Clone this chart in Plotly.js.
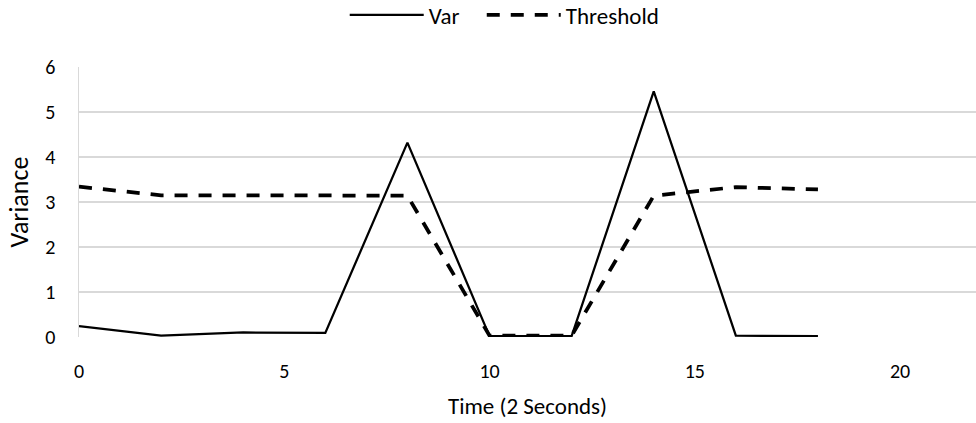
<!DOCTYPE html>
<html>
<head>
<meta charset="utf-8">
<script src="https://cdn.plot.ly/plotly-3.0.1.min.js"></script>
<style>html,body{margin:0;padding:0;background:#fff;}#chart{width:976px;height:423px;}</style>
</head>
<body>
<div id="chart"></div>
<script>
const timeSteps = [0, 2, 4, 6, 8, 10, 12, 14, 16, 18];
const varValues = [0.24, 0.03, 0.10, 0.09, 4.32, 0.02, 0.02, 5.46, 0.03, 0.02];
const thresholdValues = [3.34, 3.15, 3.15, 3.14, 3.14, 0.03, 0.03, 3.14, 3.33, 3.28];
const xTicks = [0, 5, 10, 15, 20];
const yTicks = [0, 1, 2, 3, 4, 5, 6];

const font = 'Carlito, Lato, "Open Sans", sans-serif';
const traces = [
  {x: timeSteps, y: varValues, name: 'Var', mode: 'lines', type: 'scatter', legend: 'legend',
   line: {color: '#000', width: 2.25}},
  {x: timeSteps, y: thresholdValues, name: 'Threshold', mode: 'lines', type: 'scatter', legend: 'legend2',
   line: {color: '#000', width: 3.75, dash: '13px,11px'}}
];
const legendBase = {orientation: 'h', xref: 'container', yref: 'container',
  xanchor: 'left', y: 0.965, yanchor: 'middle', bgcolor: 'rgba(0,0,0,0)',
  font: {family: font, size: 23, color: '#000'}, itemwidth: 74};
const layout = {
  width: 976, height: 423,
  margin: {l: 79, r: 0, t: 67, b: 86},
  paper_bgcolor: '#fff', plot_bgcolor: '#fff',
  font: {family: font, size: 20, color: '#000'},
  showlegend: true,
  legend: Object.assign({}, legendBase, {x: 0.3532}),
  legend2: Object.assign({}, legendBase, {x: 0.4936}),
  xaxis: {range: [0, 21.85], tickvals: xTicks, ticktext: xTicks.map(String),
          showgrid: false, zeroline: false, showline: false, ticks: '',
          ticklabelstandoff: 20, tickfont: {size: 20},
          title: {text: 'Time (2 Seconds)', font: {family: font, size: 23, color: '#000'}, standoff: 15}},
  yaxis: {range: [0, 6], tickvals: yTicks, ticktext: yTicks.map(String),
          showgrid: true, gridcolor: '#d9d9d9', gridwidth: 1.5,
          zeroline: false, showline: true, linecolor: '#d9d9d9', linewidth: 1.5, ticks: '',
          ticklabelstandoff: 18, tickfont: {size: 20},
          title: {text: 'Variance', font: {family: font, size: 26, color: '#000'}, standoff: 9}}
};
Plotly.newPlot('chart', traces, layout, {displayModeBar: false, staticPlot: true});
</script>
</body>
</html>
